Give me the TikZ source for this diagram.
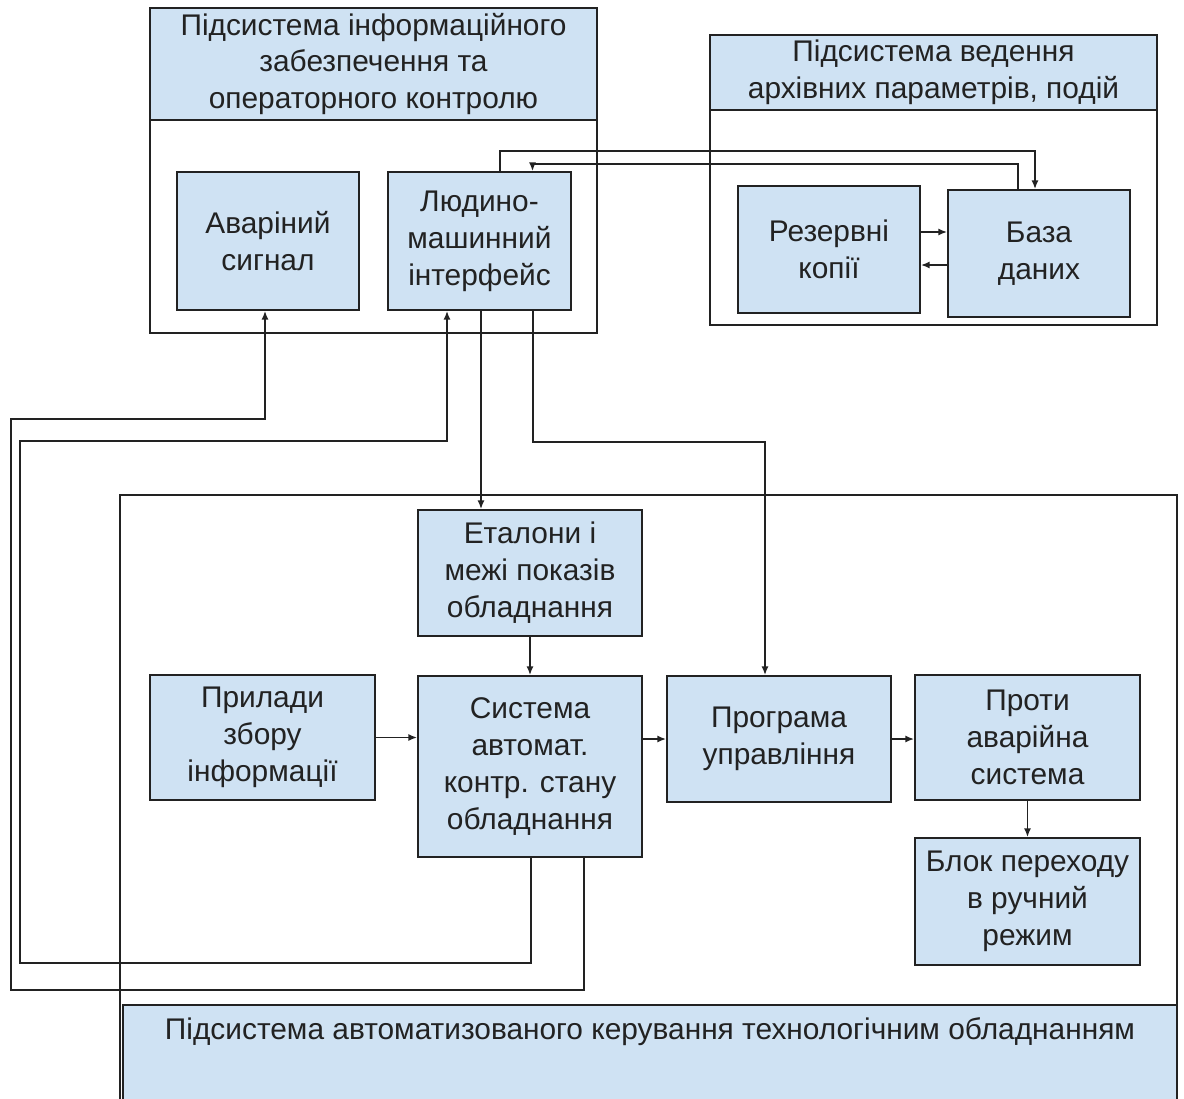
\documentclass[tikz,border=0pt]{standalone}
\usepackage{fontspec}
\setmainfont{Liberation Sans}
\usetikzlibrary{arrows.meta,calc}
\definecolor{boxblue}{HTML}{CFE2F3}
\definecolor{inkgray}{HTML}{222222}

\begin{document}
\begin{tikzpicture}[x=0.02cm, y=-0.02cm]
  \tikzset{sz/.style 2 args = {minimum width=#1*0.02cm, minimum height=#2*0.02cm}}
  \tikzset{block/.style = {draw=inkgray, fill=boxblue, line width=1pt, inner sep=0pt, align=center, text=inkgray, font=\fontsize{17}{21}\selectfont}}
  \tikzset{frame/.style = {draw=inkgray, line width=1pt, inner sep=0pt}}
  \tikzset{arr/.style = {draw=inkgray, line width=0.9pt, -{Latex[length=5pt,width=4pt]}}}

  \clip (0,0) rectangle (1184,1099);
  \fill[white] (0,0) rectangle (1184,1099);

  % subsystems
  \node[frame, sz={447}{325}] (info) at (373.5,170.5) {};
  \node[block, sz={447}{112}] (infohead) at (373.5,64) {Підсистема інформаційного\\забезпечення та\\операторного контролю};
  \node[frame, sz={447}{290}] (arch) at (933.5,180) {};
  \node[block, sz={447}{75}] (archhead) at (933.5,72.5) {Підсистема ведення\\архівних параметрів, подій};
  \node[frame, sz={1057}{625}] (auto) at (648.5,807.5) {};
  \node[block, sz={1054}{115}] (autoband) at (650,1062.5) {};
  \node[text=inkgray, font=\fontsize{17}{21}\selectfont] (autotitle) at ($(autoband.north)+(0,28)$) {Підсистема автоматизованого керування технологічним обладнанням};

  % blocks
  \node[block, sz={182}{138}] (alarm) at (268,241) {Аваріний\\сигнал};
  \node[block, sz={183}{138}] (hmi) at (479.5,241) {Людино-\\машинний\\інтерфейс};
  \node[block, sz={182}{127}] (backup) at (829,249.5) {Резервні\\копії};
  \node[block, sz={182}{127}] (db) at (1039,253.5) {База\\даних};
  \node[block, sz={224}{126}] (etalon) at (530,573) {Еталони і\\межі показів\\обладнання};
  \node[block, sz={225}{125}] (dev) at (262.5,737.5) {Прилади\\збору\\інформації};
  \node[block, sz={224}{181}] (system) at (530,766.5) {Система\\автомат.\\контр. стану\\обладнання};
  \node[block, sz={224}{126}] (prog) at (779,739) {Програма\\управління};
  \node[block, sz={225}{125}] (anti) at (1027.5,737.5) {Проти\\аварійна\\система};
  \node[block, sz={225}{127}] (manual) at (1027.5,901.5) {Блок переходу\\в ручний\\режим};

  % waypoints
  \coordinate (bk1) at ($(backup.east)+(0,-17.5)$);
  \coordinate (bk2) at ($(backup.east)+(0,15.5)$);
  \coordinate (h1) at ($(hmi.south)+(1.5,0)$);
  \coordinate (h2) at ($(hmi.south)+(53.5,0)$);
  \coordinate (s1) at ($(system.south)+(1,0)$);
  \coordinate (s2) at ($(system.south)+(54,0)$);
  \coordinate (lp1) at (20,441);
  \coordinate (lp2) at (11,419);

  % connectors
  \draw[arr] ($(hmi.north)+(20.5,0)$) -- ++(0,-20) -| ($(db.north)+(-4,0)$);
  \draw[arr] ($(db.north)+(-21,0)$) -- ++(0,-25) -| ($(hmi.north)+(53,0)$);
  \draw[arr] (bk1) -- (bk1 -| db.west);
  \draw[arr] (bk2 -| db.west) -- (bk2);
  \draw[arr] (h1) -- (h1 |- etalon.north);
  \draw[arr] (h2) -- ++(0,131) -| ($(prog.north)+(-14,0)$);
  \draw[arr] (etalon.south) -- (system.north);
  \draw[arr] (dev.east) -- (dev.east -| system.west);
  \draw[arr] (system.east |- prog.west) -- (prog.west);
  \draw[arr] (prog.east) -- (prog.east -| anti.west);
  \draw[arr] (anti.south) -- (manual.north);
  \draw[arr] (s1) -- ++(0,105) -| (lp1) -| ($(hmi.south)+(-32.5,0)$);
  \draw[arr] (s2) -- ++(0,132) -| (lp2) -| ($(alarm.south)+(-3,0)$);
\end{tikzpicture}
\end{document}
